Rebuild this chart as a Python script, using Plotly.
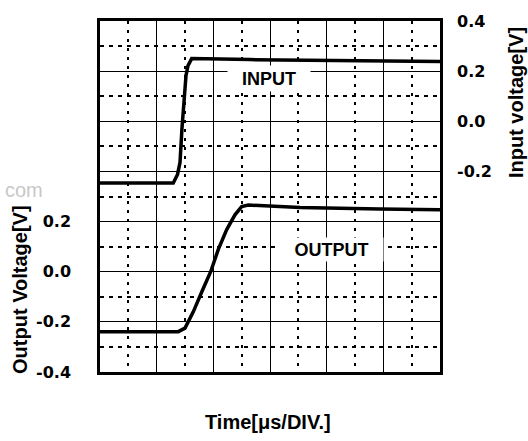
import plotly.graph_objects as go

# ---- data (time in divisions, voltages in V) ----
time_in = [0.0, 1.293, 1.368, 1.412, 1.447, 1.482, 1.518, 1.553, 1.618, 2.647, 4.41, 6.0]
input_v = [-0.246, -0.246, -0.212, -0.164, -0.026, 0.092, 0.183, 0.222, 0.250, 0.246, 0.242, 0.238]

time_out = [0.0, 1.382, 1.50, 1.646, 1.795, 1.953, 2.088, 2.236, 2.382, 2.50, 2.617, 2.824, 3.53, 4.94, 6.0]
output_v = [-0.239, -0.239, -0.225, -0.160, -0.081, 0.0, 0.089, 0.168, 0.227, 0.260, 0.266, 0.264, 0.256, 0.250, 0.247]

out_tickvals = [-0.4, -0.2, 0.0, 0.2, 0.4, 0.6, 0.8, 1.0]
out_ticktext = ["-0.4", "-0.2", "0.0", "0.2", "", "", "", ""]
out_minorvals = [-0.3, -0.1, 0.1, 0.3, 0.5, 0.7, 0.9]
in_tickvals = [-0.2, 0.0, 0.2, 0.4]
in_ticktext = ["-0.2", "0.0", "0.2", "0.4"]

FONT = "Liberation Sans, Arial, sans-serif"
TICKFONT = "DejaVu Sans, sans-serif"

fig = go.Figure()
fig.add_trace(go.Scatter(x=time_out, y=output_v, mode="lines", yaxis="y",
                         line=dict(color="black", width=3.5), showlegend=False,
                         hoverinfo="skip"))
fig.add_trace(go.Scatter(x=time_in, y=input_v, mode="lines", yaxis="y2",
                         line=dict(color="black", width=3.5), showlegend=False,
                         hoverinfo="skip"))

fig.update_layout(
    width=528, height=441,
    margin=dict(l=100, r=88, t=17, b=69),
    paper_bgcolor="white", plot_bgcolor="white",
    font=dict(family=FONT, color="black"),
    xaxis=dict(range=[0, 6], tick0=0, dtick=1, showticklabels=False, ticks="",
               showgrid=True, gridcolor="black", gridwidth=1, zeroline=False,
               showline=True, mirror=True, linecolor="black", linewidth=2.5,
               minor=dict(tick0=0, dtick=0.5, showgrid=True, gridcolor="black",
                          gridwidth=2, griddash="3px,6px", ticks="")),
    yaxis=dict(range=[-0.4, 1.0], tickmode="array", tickvals=out_tickvals,
               ticktext=out_ticktext, ticks="", ticklabelstandoff=23,
               tickfont=dict(family=TICKFONT, size=16, color="black", weight="bold"),
               showgrid=True, gridcolor="black", gridwidth=1, zeroline=False,
               showline=True, mirror=True, linecolor="black", linewidth=2.5,
               minor=dict(tickmode="array", tickvals=out_minorvals, showgrid=True,
                          gridcolor="black", gridwidth=2, griddash="4px,5px", ticks="")),
    yaxis2=dict(range=[-1.0, 0.4], overlaying="y", side="right", tickmode="array",
                tickvals=in_tickvals, ticktext=in_ticktext, ticks="",
                ticklabelstandoff=16,
                tickfont=dict(family=TICKFONT, size=16, color="black", weight="bold"),
                showgrid=False, zeroline=False, showline=False),
)

annotations = [
    dict(text="INPUT", xref="paper", yref="paper", x=(269 - 100) / 340, y=(372 - 75) / 355,
         xanchor="center", yanchor="middle", showarrow=False, bgcolor="white",
         width=82, height=25, borderpad=0,
         font=dict(family=FONT, size=18, color="black", weight="bold")),
    dict(text="OUTPUT", xref="paper", yref="paper", x=(331.5 - 100) / 340, y=(372 - 248.5) / 355,
         xanchor="center", yanchor="middle", showarrow=False, bgcolor="white",
         width=103, height=23, borderpad=0,
         font=dict(family=FONT, size=18, color="black", weight="bold")),
    dict(text="Time[μs/DIV.]", xref="paper", yref="paper", x=(268 - 100) / 340, y=(372 - 423) / 355,
         xanchor="center", yanchor="middle", showarrow=False,
         font=dict(family=FONT, size=20, color="black", weight="bold")),
    dict(text="Output Voltage[V]", xref="paper", yref="paper", x=(20 - 100) / 340, y=(372 - 289) / 355,
         xanchor="center", yanchor="middle", showarrow=False, textangle=-90,
         font=dict(family=FONT, size=20, color="black", weight="bold")),
    dict(text="Input voltage[V]", xref="paper", yref="paper", x=(516 - 100) / 340, y=(372 - 100) / 355,
         xanchor="center", yanchor="middle", showarrow=False, textangle=-90,
         font=dict(family=FONT, size=20, color="black", weight="bold")),
    dict(text="com", xref="paper", yref="paper", x=(3 - 100) / 340, y=(372 - 188) / 355,
         xanchor="left", yanchor="middle", showarrow=False,
         font=dict(family=FONT, size=20, color="#c8c8c8")),
]
fig.update_layout(annotations=annotations)

# remove the browser's default 8px body margin so the 528x441 figure fills the window
fig.write_html("out.html", config={"displayModeBar": False},
               post_script="document.body.style.margin='0';document.body.style.overflow='hidden';")
